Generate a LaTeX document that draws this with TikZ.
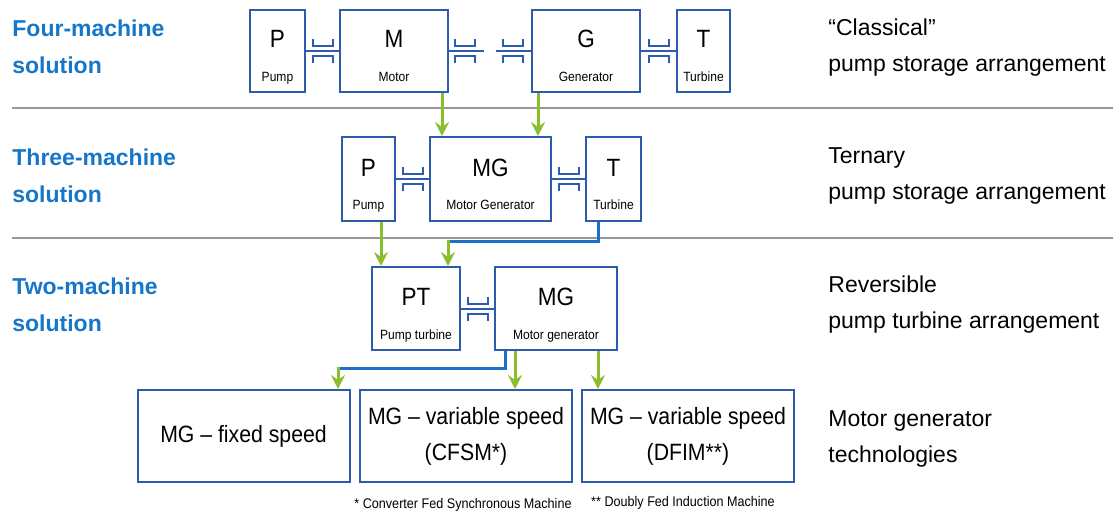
\documentclass[tikz,border=0pt]{standalone}
\usepackage{fontspec}
\setmainfont{Liberation Sans}
\newfontfamily\narrowsf[FakeStretch=0.9]{Liberation Sans}
\usepackage{tikz}
\usetikzlibrary{arrows.meta,calc,positioning}
\definecolor{boxblue}{RGB}{45,92,172}
\definecolor{headblue}{RGB}{22,118,200}
\definecolor{linkblue}{RGB}{28,112,200}
\definecolor{arrowgreen}{RGB}{138,190,45}
\definecolor{sepgray}{RGB}{150,150,158}

\tikzset{
  machine/.style={draw=boxblue, line width=1pt, inner sep=0pt},
  bigletter/.style={font=\narrowsf\fontsize{12.5}{13}\selectfont},
  smalllabel/.style={font=\narrowsf\fontsize{6.7}{7}\selectfont, text height=5pt, text depth=1.2pt, inner sep=0pt},
  shaft/.style={draw=boxblue, line width=1pt},
  greenarrow/.style={draw=arrowgreen, line width=1.5pt, -{Stealth[width=7pt,length=7pt,inset=2.5pt,fill=arrowgreen]}},
  bluelink/.style={draw=linkblue, line width=1.5pt},
  heading/.style={font=\bfseries\fontsize{11.5}{18.5}\selectfont, text=headblue, align=left, anchor=west, inner sep=0pt},
  arrangement/.style={font=\fontsize{11.5}{18}\selectfont, align=left, anchor=west, inner sep=0pt},
  techbox/.style={machine, minimum width=106pt, minimum height=46pt, align=center, font=\narrowsf\fontsize{11.8}{18}\selectfont},
  footnote/.style={font=\narrowsf\fontsize{7}{8}\selectfont, inner sep=0pt},
  sep/.style={draw=sepgray, line width=0.6pt},
  coupling/.pic={
    \draw[boxblue, line width=1pt] (-10,-12) -- (-10,-5) -- (10,-5) -- (10,-12);
    \draw[boxblue, line width=1pt] (-10,12) -- (-10,5) -- (10,5) -- (10,12);
  }
}

\begin{document}
\begin{tikzpicture}[x=0.5pt, y=-0.5pt]
  \useasboundingbox (0,0) rectangle (1116,515);

  % separators
  \draw[sep] (12,108) -- (1113,108);
  \draw[sep] (12,238) -- (1113,238);
  \coordinate (bend2) at (0,241);
  \coordinate (bend3) at (0,368);

  % four machines
  \node[heading] (head1) at (12,47) {Four-machine\\solution};
  \node[arrangement] (arr1) at (828,48) {“Classical”\\pump storage arrangement};
  \node[machine, minimum width=27.5pt, minimum height=41pt] (p1) at (277.5,51) {};
  \node[machine, minimum width=54pt, minimum height=41pt] (m1) at (394,51) {};
  \node[machine, minimum width=54pt, minimum height=41pt] (g1) at (586,51) {};
  \node[machine, minimum width=26.5pt, minimum height=41pt] (t1) at (703.5,51) {};
  \node[bigletter] (p1a) at ([yshift=-15pt]p1.north) {P};
  \node[smalllabel] (p1b) at ([yshift=7.5pt]p1.south) {Pump};
  \node[bigletter] (m1a) at ([yshift=-15pt]m1.north) {M};
  \node[smalllabel] (m1b) at ([yshift=7.5pt]m1.south) {Motor};
  \node[bigletter] (g1a) at ([yshift=-15pt]g1.north) {G};
  \node[smalllabel] (g1b) at ([yshift=7.5pt]g1.south) {Generator};
  \node[bigletter] (t1a) at ([yshift=-15pt]t1.north) {T};
  \node[smalllabel] (t1b) at ([yshift=7.5pt]t1.south) {Turbine};
  \draw[shaft] (p1.east) -- (m1.west);
  \draw[shaft] (m1.east) -- ++(35,0);
  \draw[shaft] (g1.west) -- ++(-35,0);
  \draw[shaft] (g1.east) -- (t1.west);
  \pic at ($(p1.east)!0.5!(m1.west)$) {coupling};
  \pic at ([xshift=8pt]m1.east) {coupling};
  \pic at ([xshift=-9pt]g1.west) {coupling};
  \pic at ($(g1.east)!0.5!(t1.west)$) {coupling};

  % three machines
  \node[heading] (head2) at (12,176) {Three-machine\\solution};
  \node[arrangement] (arr2) at (828,176) {Ternary\\pump storage arrangement};
  \node[machine, minimum width=26.5pt, minimum height=42pt] (p2) at (368.5,179) {};
  \node[machine, minimum width=60.5pt, minimum height=42pt] (mg2) at (490.5,179) {};
  \node[machine, minimum width=27.5pt, minimum height=42pt] (t2) at (613.5,179) {};
  \node[bigletter] (p2a) at ([yshift=-16pt]p2.north) {P};
  \node[smalllabel] (p2b) at ([yshift=8pt]p2.south) {Pump};
  \node[bigletter] (mg2a) at ([yshift=-16pt]mg2.north) {MG};
  \node[smalllabel] (mg2b) at ([yshift=8pt]mg2.south) {Motor Generator};
  \node[bigletter] (t2a) at ([yshift=-16pt]t2.north) {T};
  \node[smalllabel] (t2b) at ([yshift=8pt]t2.south) {Turbine};
  \draw[shaft] (p2.east) -- (mg2.west);
  \draw[shaft] (mg2.east) -- (t2.west);
  \pic at ($(p2.east)!0.5!(mg2.west)$) {coupling};
  \pic at ($(mg2.east)!0.5!(t2.west)$) {coupling};
  \draw[greenarrow] ([xshift=24pt]m1.south) -- ([xshift=24pt]m1.south |- mg2.north);
  \draw[greenarrow] ([xshift=-24pt]g1.south) -- ([xshift=-24pt]g1.south |- mg2.north);

  % two machines
  \node[heading] (head3) at (12,304.5) {Two-machine\\solution};
  \node[arrangement] (arr3) at (828,304.5) {Reversible\\pump turbine arrangement};
  \node[machine, minimum width=44pt, minimum height=41.5pt] (pt3) at (416,308.5) {};
  \node[machine, minimum width=61pt, minimum height=41.5pt] (mg3) at (556,308.5) {};
  \node[bigletter] (pt3a) at ([yshift=-15.5pt]pt3.north) {PT};
  \node[smalllabel] (pt3b) at ([yshift=7.5pt]pt3.south) {Pump turbine};
  \node[bigletter] (mg3a) at ([yshift=-15.5pt]mg3.north) {MG};
  \node[smalllabel] (mg3b) at ([yshift=7.5pt]mg3.south) {Motor generator};
  \draw[shaft] (pt3.east) -- (mg3.west);
  \pic at ($(pt3.east)!0.5!(mg3.west)$) {coupling};
  \draw[greenarrow] ([xshift=6.25pt]p2.south) -- ([xshift=6.25pt]p2.south |- pt3.north);
  \draw[bluelink] ([xshift=-7.75pt]t2.south) |- ([xshift=16pt]pt3.north |- bend2) coordinate (c2);
  \draw[greenarrow] ([yshift=0.75pt]c2) -- ([xshift=16pt]pt3.north);

  % motor generator technologies
  \node[arrangement] (arr4) at (828,439) {Motor generator\\technologies};
  \node[techbox] (fix) at (243.5,436) {MG – fixed speed};
  \node[techbox] (cfsm) at (466,436) {MG – variable speed\\(CFSM*)};
  \node[techbox] (dfim) at (688,436) {MG – variable speed\\(DFIM**)};
  \draw[bluelink] ([xshift=-25.5pt]mg3.south) |- ([xshift=47.25pt]fix.north |- bend3) coordinate (c3);
  \draw[greenarrow] ([yshift=0.75pt]c3) -- ([xshift=47.25pt]fix.north);
  \draw[greenarrow] ([xshift=-20.5pt]mg3.south) -- ([xshift=-20.5pt]mg3.south |- cfsm.north);
  \draw[greenarrow] ([xshift=21pt]mg3.south) -- ([xshift=21pt]mg3.south |- dfim.north);
  \node[footnote] (fn1) at (463,505) {* Converter Fed Synchronous Machine};
  \node[footnote] (fn2) at (683,503) {** Doubly Fed Induction Machine};
\end{tikzpicture}
\end{document}
